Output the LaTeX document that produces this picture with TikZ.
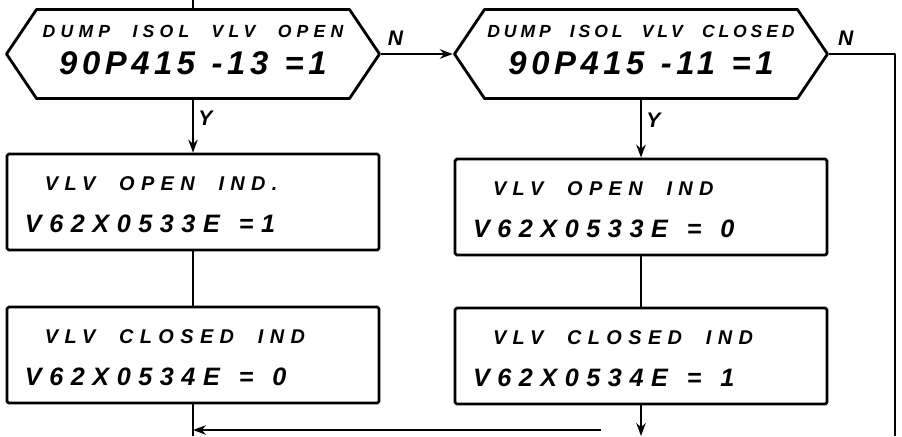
\documentclass[tikz,border=0pt]{standalone}
\usepackage{fontspec}
\setmainfont{Liberation Sans}
\newfontfamily\mano{Liberation Sans}
\usetikzlibrary{shapes.symbols,arrows.meta}
% renglones de letra a mano, cada uno con su tamaño y su espaciado
\newcommand\hexarriba[2][30]{{\fontsize{15}{17}\selectfont\addfontfeature{LetterSpace=#1}\spaceskip=2.2\fontdimen2\font #2}}
\newcommand\hexabajo[1]{{\fontsize{28}{30}\selectfont\addfontfeature{LetterSpace=14}\spaceskip=1.2\fontdimen2\font #1\rule[-7pt]{0pt}{7pt}}}
\newcommand\indarriba[1]{{\fontsize{17}{19}\selectfont\addfontfeature{LetterSpace=32}\spaceskip=2\fontdimen2\font \rule{0pt}{17pt}\hspace*{0.6cm}#1}}
\newcommand\indabajo[1]{{\fontsize{21.5}{24}\selectfont\addfontfeature{LetterSpace=30}\spaceskip=1.3\fontdimen2\font #1}}
\begin{document}
\begin{tikzpicture}[x=0.03cm, y=-0.03cm, line width=2.4pt, line join=round,
  decision/.style={signal, signal to=west and east, signal pointer angle=112, draw,
    minimum width=11.19cm, minimum height=2.67cm, inner sep=0pt, align=center,
    font=\mano\bfseries\itshape\fontsize{20}{31.6}\selectfont},
  ind/.style={draw, rectangle, rounded corners=1.5pt, text width=10.08cm, inner xsep=0.54cm,
    minimum height=2.88cm, align=left, font=\mano\bfseries\itshape\fontsize{20}{36}\selectfont},
  flecha/.style={-{Stealth[length=11pt,width=8pt]}},
  etiqueta/.style={font=\mano\bfseries\itshape\fontsize{18}{20}\selectfont}]
  \useasboundingbox (0,0) rectangle (902,436);
  % las dos preguntas
  \node[decision] (vopen) at (193,54) {\hexarriba{DUMP ISOL VLV OPEN}\\ \hexabajo{90P415 -13 =1}};
  \node[decision] (vclosed) at (641,54) {\hexarriba[22]{DUMP ISOL VLV CLOSED}\\ \hexabajo{90P415 -11 =1}};
  % las indicaciones de la válvula
  \node[ind] (openA) at (193,202) {\indarriba{VLV OPEN IND.}\\ \indabajo{V62X0533E =1}};
  \node[ind] (openB) at (193,355) {\indarriba{VLV CLOSED IND}\\ \indabajo{V62X0534E = 0}};
  \node[ind] (closedA) at (641,207) {\indarriba{VLV OPEN IND}\\ \indabajo{V62X0533E = 0}};
  \node[ind] (closedB) at (641,356) {\indarriba{VLV CLOSED IND}\\ \indabajo{V62X0534E = 1}};
  % puntos sueltos en los bordes
  \coordinate (entrada) at (193,0);
  \coordinate (salidaA) at (193,436);
  \coordinate (salidaB) at (641,436);
  \coordinate (retorno) at (601,430);
  \coordinate (margen) at (895,436);
  % las líneas
  \draw (entrada) -- (vopen.north);
  \draw[flecha] (vopen.east) -- node[etiqueta, pos=0.2, above=3pt] {N} (vclosed.west);
  \draw[flecha] (vopen.south) -- node[etiqueta, pos=0.35, right] {Y} (openA.north);
  \draw (openA.south) -- (openB.north);
  \draw (openB.south) -- (salidaA);
  \draw[flecha] (retorno) -- (salidaA |- retorno);
  \draw[flecha] (vclosed.south) -- node[etiqueta, pos=0.35, right] {Y} (closedA.north);
  \draw (closedA.south) -- (closedB.north);
  \draw[flecha] (closedB.south) -- (salidaB);
  \draw (vclosed.east) -- node[etiqueta, pos=0.25, above=3pt] {N} (vclosed.east -| margen) -- (margen);
\end{tikzpicture}
\end{document}
